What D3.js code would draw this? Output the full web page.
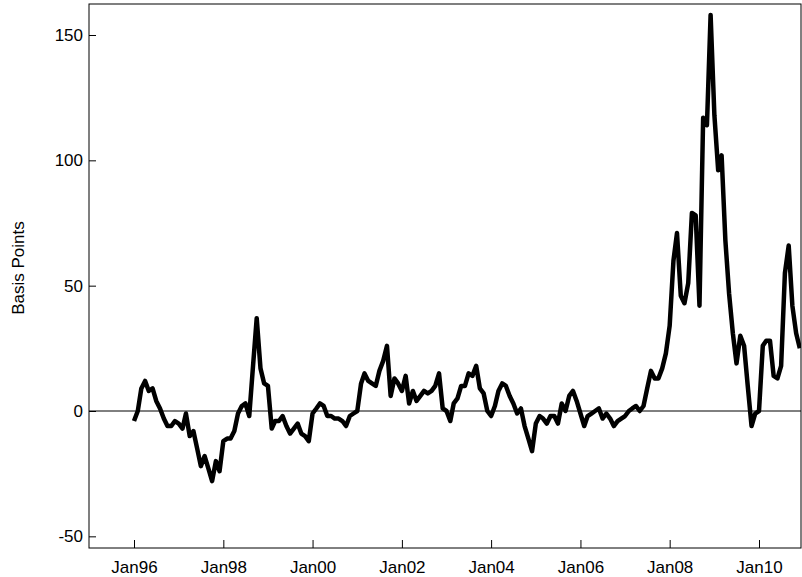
<!DOCTYPE html>
<html>
<head>
<meta charset="utf-8">
<script src="https://cdn.jsdelivr.net/npm/d3@7"></script>
<style>
  body { margin: 0; background: #fff; }
  text { font-family: "Liberation Sans", Arial, sans-serif; }
</style>
</head>
<body>
<svg id="chart"></svg>
<script>
// monthly spread, Jan 1996 onwards (basis points)
const startYear = 1996;
const values = [
  -4, 0, 9, 12, 8, 9, 4, 1, -3, -6, -6, -4,
  -5, -7, -1, -10, -8, -15, -22, -18, -23, -28, -20, -24,
  -12, -11, -11, -8, -1, 2, 3, -2, 18, 37, 17, 11,
  10, -7, -4, -4, -2, -6, -9, -7, -5, -9, -10, -12,
  -1, 1, 3, 2, -2, -2, -3, -3, -4, -6, -2, -1,
  0, 11, 15, 12, 11, 10, 16, 20, 26, 6, 13, 11,
  8, 14, 3, 8, 4, 6, 8, 7, 8, 10, 15, 1,
  0, -4, 3, 5, 10, 10, 15, 14, 18, 9, 7, 0,
  -2, 2, 8, 11, 10, 6, 3, -1, 1, -6, -11, -16,
  -5, -2, -3, -5, -2, -2, -5, 3, 0, 6, 8, 4,
  -1, -6, -2, -1, 0, 1, -3, -1, -3, -6, -4, -3,
  -2, 0, 1, 2, 0, 2, 9, 16, 13, 13, 17, 23,
  34, 60, 71, 46, 43, 51, 79, 78, 42, 117, 114, 158,
  118, 96, 102, 68, 47, 31, 19, 30, 26, 10, -6, -1,
  0, 26, 28, 28, 14, 13, 18, 55, 66, 42, 31, 25
];
const xTickYears = [1996, 1998, 2000, 2002, 2004, 2006, 2008, 2010];
const yTicks = [-50, 0, 50, 100, 150];

const data = values.map((v, i) => ({ date: new Date(Date.UTC(startYear, i, 1)), value: v }));

const width = 802, height = 577;
const plotLeft = 89, plotTop = 4, plotRight = 801, plotBottom = 548;

const svg = d3.select('#chart').attr('width', width).attr('height', height);

// Jan96 sits at x=134, Jan10 at x=759
const x = d3.scaleUtc()
  .domain([new Date(Date.UTC(1996, 0, 1)), new Date(Date.UTC(2010, 0, 1))])
  .range([134, 759]);
const y = d3.scaleLinear().domain([0, 150]).range([411, 35]);

svg.append('defs').append('clipPath').attr('id', 'clip')
  .append('rect').attr('x', plotLeft).attr('y', plotTop)
  .attr('width', plotRight - plotLeft).attr('height', plotBottom - plotTop);

// zero line
svg.append('line')
  .attr('x1', plotLeft).attr('x2', plotRight)
  .attr('y1', y(0)).attr('y2', y(0))
  .attr('stroke', '#000').attr('stroke-width', 1);

svg.append('path')
  .datum(data)
  .attr('clip-path', 'url(#clip)')
  .attr('fill', 'none')
  .attr('stroke', '#000')
  .attr('stroke-width', 4.5)
  .attr('stroke-linejoin', 'round')
  .attr('d', d3.line().x(d => x(d.date)).y(d => y(d.value)));

// frame
svg.append('rect')
  .attr('x', plotLeft).attr('y', plotTop)
  .attr('width', plotRight - plotLeft).attr('height', plotBottom - plotTop)
  .attr('fill', 'none').attr('stroke', '#000').attr('stroke-width', 1);

const xAxis = d3.axisBottom(x)
  .tickValues(xTickYears.map(yr => new Date(Date.UTC(yr, 0, 1))))
  .tickFormat(d => 'Jan' + String(d.getUTCFullYear()).slice(2))
  .tickSizeInner(-8).tickSizeOuter(0).tickPadding(13);
const gx = svg.append('g').attr('transform', `translate(0,${plotBottom})`).call(xAxis);
gx.select('.domain').remove();
gx.selectAll('text').attr('font-size', 17).attr('fill', '#000');

const yAxis = d3.axisLeft(y).tickValues(yTicks)
  .tickFormat(d => String(d))
  .tickSizeInner(-7).tickSizeOuter(0).tickPadding(6);
const gy = svg.append('g').attr('transform', `translate(${plotLeft},0)`).call(yAxis);
gy.select('.domain').remove();
gy.selectAll('text').attr('font-size', 17).attr('fill', '#000');

svg.append('text')
  .attr('transform', 'translate(24,268) rotate(-90)')
  .attr('text-anchor', 'middle')
  .attr('font-size', 17)
  .text('Basis Points');
</script>
</body>
</html>
